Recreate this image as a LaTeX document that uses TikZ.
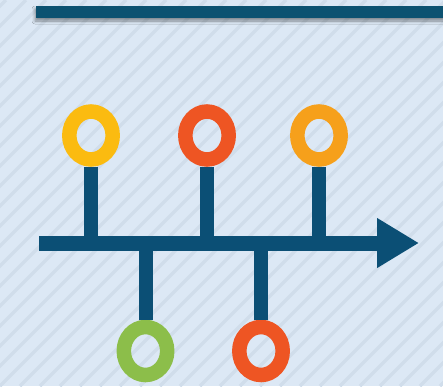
\documentclass[tikz,border=0pt]{standalone}
\usetikzlibrary{arrows.meta,shapes.geometric,shadows.blur}
\definecolor{bgblue}{HTML}{DCE8F5}
\definecolor{stripeblue}{HTML}{D0DDEB}
\definecolor{navy}{HTML}{0B4F75}
\definecolor{barblue}{HTML}{0C5271}
\definecolor{ringyellow}{HTML}{FBBB10}
\definecolor{ringred}{HTML}{EE5523}
\definecolor{ringorange}{HTML}{F6A01B}
\definecolor{ringgreen}{HTML}{8CBE4A}

\begin{document}
\begin{tikzpicture}[x=1pt,y=-1pt]
\tikzset{RingStyle/.style = {draw=#1,ellipse,line width=14.5pt,
                             minimum width=43.4pt,minimum height=48pt,
                             inner sep=0pt},
         StemStyle/.style = {draw=navy,line width=14pt}}
\useasboundingbox (0,0) rectangle (443,386);
% striped backdrop
\fill[bgblue] (0,0) rectangle (443,386);
\begin{scope}
\clip (0,0) rectangle (443,386);
\foreach \i in {-400,-380,...,460}
  \draw[stripeblue,line width=3.5pt] (\i,386) -- (\i+386,0);
\end{scope}
% heading bar
\fill[barblue,blur shadow={shadow xshift=-1pt,shadow yshift=-3pt,
      shadow blur radius=3pt,shadow opacity=40}] (36,6) rectangle (452,18);
% time line
\coordinate (start) at (39,243);
\coordinate (tip) at (419,243);
\node[RingStyle=ringyellow] (r1) at (91,135.5) {};
\node[RingStyle=ringred]    (r2) at (207,135.5) {};
\node[RingStyle=ringorange] (r3) at (319,135.5) {};
\node[RingStyle=ringgreen]  (r4) at (145.5,351) {};
\node[RingStyle=ringred]    (r5) at (261,351) {};
\draw[StemStyle] (r1.south) -- (r1.south |- start);
\draw[StemStyle] (r2.south) -- (r2.south |- start);
\draw[StemStyle] (r3.south) -- (r3.south |- start);
\draw[StemStyle] (r4.north) -- (r4.north |- start);
\draw[StemStyle] (r5.north) -- (r5.north |- start);
\draw[navy,line width=15pt,-{Triangle[length=42pt,width=47pt]}] (start) -- (tip);
\end{tikzpicture}
\end{document}
